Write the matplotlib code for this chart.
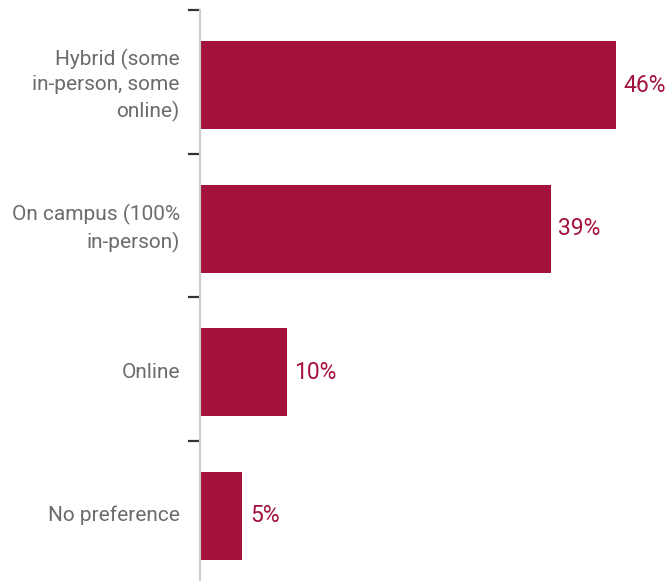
import matplotlib
matplotlib.use("Agg")
import matplotlib.pyplot as plt

categories = ["Hybrid (some\nin-person, some\nonline)", "On campus (100%\nin-person)", "Online", "No preference"]
values = [46.0, 38.8, 9.6, 4.7]
value_labels = ["46%", "39%", "10%", "5%"]

bar_color = "#A3133C"
label_color = "#6b6b6b"
fam = ["Roboto", "DejaVu Sans"]

fig = plt.figure(figsize=(6.69, 5.81), dpi=100)
ax = fig.add_axes([200/669, 0, 469/669, 1 - 10/581])

pos = list(range(len(categories)))
ax.barh(pos, values, height=0.613, color=bar_color)
ax.set_ylim(3.456, -0.523)
ax.set_xlim(0, 469/9.04)

for p, v, t in zip(pos, values, value_labels):
    ax.text(v + 0.85, p, t, va="center", ha="left", color=bar_color,
            fontsize=16.5, family=fam)

ax.set_yticks(pos)
ax.set_yticklabels(categories, family=fam, fontsize=15, color=label_color,
                   linespacing=1.38, va="center")
ax.tick_params(axis="y", which="major", length=0, pad=14.5)
ax.set_yticks([p - 0.52 for p in pos], minor=True)
ax.tick_params(axis="y", which="minor", length=9, width=1.6, color="#333333")
ax.set_xticks([])
for s in ["top", "right", "bottom"]:
    ax.spines[s].set_visible(False)
ax.spines["left"].set_color("#cccccc")
ax.spines["left"].set_linewidth(1.5)

fig.savefig("out.png", dpi=100)
